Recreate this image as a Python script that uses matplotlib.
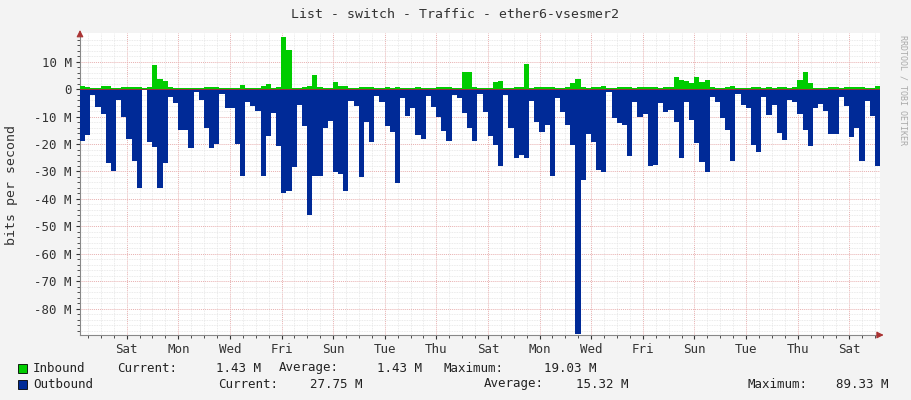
import matplotlib
matplotlib.use("Agg")
import matplotlib.pyplot as plt
import numpy as np

inbound = [1,.6,.4,.4,1.2,1.2,.4,.4,.6,.6,.8,.8,.4,.6,8.8,3.6,3,.6,.4,.4,.4,.4,.4,.4,.8,.8,.8,.4,.4,.4,.4,1.5,.4,.4,.4,1.2,1.8,.4,.6,19,
           14.3,.4,.4,.6,1.2,5.2,.8,.5,.5,2.4,1.2,1.2,.4,.4,.6,.6,.6,.4,.4,.8,.4,.6,.4,.4,.4,.6,.4,.4,.4,.6,.6,.6,.4,.4,6.3,6.3,.6,.4,.4,.4,
           2.7,3,.4,.4,.6,.6,9.3,.4,.6,.6,.8,.8,.4,.4,.6,2.1,3.6,.6,.4,.8,.8,1.2,.4,.4,.6,.6,.8,.4,.6,.8,.8,.8,.4,.6,.6,4.5,3.4,
           3,2.2,4.5,2.7,3.4,.6,.4,.4,.8,1.2,.4,.4,.4,.8,.8,.4,.6,.4,.6,.6,.4,.6,3.4,6.3,2.2,.4,.4,.4,.6,.6,.4,.6,.6,.6,.6,.4,.4,1.2]
outbound = [18.8,16.7,2.2,6.7,9,27,30,4,10,18,26,36,0.3,19.4,21,36,27,2.8,5,15,14.8,21.6,1,4,14.3,21.6,20,1.8,7,7,20,31.5,4.6,6,7.9,31.5,17,8.7,20.6,38,
            37,28.5,5.7,13.6,45.7,31.5,31.8,14.3,11.5,30.3,31,37,4.2,6,32,11.9,19.4,2.7,4.6,13.6,15.5,34.3,3.4,9.7,7,16.7,18,2.4,6.7,10.3,15.2,18.8,2,3.4,8.8,14,19,1.8,8.5,17.2,
            20.4,28,2,14.3,25.2,23.9,25.2,4.2,11.9,15.8,13,31.8,3.4,8.2,13,20.2,89.3,33,16.4,19.2,29.3,30.3,1.2,10.7,12.4,13.1,24.5,4.6,10.3,9.1,28.1,27.6,5.2,8.5,7.6,11.9,25.2,
            4.6,11.2,19.6,26.7,30.3,2.8,4.6,10.7,14.8,26,1.8,5.7,7,20.2,22.8,3,9.3,5.7,16,18.4,4,4.6,9.1,14.8,20.6,7,5.5,7.9,16.4,16.4,2.8,6,17.6,14,26.3,4.2,9.7,28.1]
day_labels = ["Sat","Mon","Wed","Fri","Sun","Tue","Thu","Sat","Mon","Wed","Fri","Sun","Tue","Thu","Sat"]
step_h = 4.8
first_label_h = 43.4

fig = plt.figure(figsize=(9.11, 4.0), dpi=100, facecolor="#F3F3F3")
ax = fig.add_axes([80/911, 65/400, 800/911, 302/400])
ax.set_facecolor("white")
n = len(inbound)
x = np.arange(n) * step_h
ax.bar(x, inbound, width=step_h, align="edge", color="#00CC00", linewidth=0, zorder=3)
ax.bar(x, [-v for v in outbound], width=step_h, align="edge", color="#002A97", linewidth=0, zorder=3)
ax.set_xlim(0, n * step_h)
ax.set_ylim(-89.5, 20.4)

ticks = [first_label_h + 48 * i for i in range(len(day_labels))]
ax.set_xticks(ticks)
ax.set_xticklabels(day_labels)
ax.set_xticks(np.arange(first_label_h % 12, n * step_h, 12), minor=True)
yt = list(range(-80, 20, 10))
ax.set_yticks(yt)
ax.set_yticklabels([("%d M" % v) if v != 0 else "0" for v in yt])
ax.set_yticks(np.arange(-88, 20, 2), minor=True)
ax.grid(which="minor", color="#E4E4E4", linestyle=(0, (1, 1)), linewidth=0.6, zorder=1)
ax.grid(which="major", color="#E8B0B0", linestyle=(0, (1, 1)), linewidth=0.7, zorder=2)
ax.tick_params(which="both", length=2, labelsize=9, colors="#333333", pad=3)
ax.tick_params(which="major", length=3)
for t in ax.get_xticklabels() + ax.get_yticklabels():
    t.set_family("DejaVu Sans Mono")
for s in ["top", "right"]:
    ax.spines[s].set_visible(False)
ax.spines["left"].set_color("#888888")
ax.spines["bottom"].set_color("#888888")
ax.axhline(0, color="#AA3333", linewidth=0.6, zorder=4)
ax.annotate("", xy=(n * step_h + 6, -89.5), xytext=(n * step_h - 2, -89.5),
            arrowprops=dict(arrowstyle="-|>", color="#AA3333", lw=0.8), annotation_clip=False)
ax.annotate("", xy=(0, 22.5), xytext=(0, 19.5),
            arrowprops=dict(arrowstyle="-|>", color="#AA3333", lw=0.8), annotation_clip=False)

mono = "DejaVu Sans Mono"
fig.text(455/911, 1 - 14/400, "List - switch - Traffic - ether6-vsesmer2", ha="center", va="center",
         fontsize=9.5, family=mono, color="#333333")
fig.text(12/911, 1 - 185/400, "bits per second", rotation=90, ha="center", va="center",
         fontsize=9.5, family=mono, color="#333333")
fig.text(903/911, 1 - 90/400, "RRDTOOL / TOBI OETIKER", rotation=270, ha="center", va="center",
         fontsize=6, family=mono, color="#AAAAAA")
fig.patches.append(plt.Rectangle((18/911, 1 - 373/400), 9/911, 9/400, transform=fig.transFigure,
                                 facecolor="#00CC00", edgecolor="black", linewidth=0.6))
fig.patches.append(plt.Rectangle((18/911, 1 - 389/400), 9/911, 9/400, transform=fig.transFigure,
                                 facecolor="#002A97", edgecolor="black", linewidth=0.6))

def t(xp, yp, s, ha="left"):
    fig.text(xp/911, 1 - yp/400, s, ha=ha, va="center", fontsize=9, family=mono, color="#222222")

t(33, 368, "Inbound"); t(117, 368, "Current:"); t(261, 368, "1.43 M", "right")
t(279, 368, "Average:"); t(422, 368, "1.43 M", "right")
t(443, 368, "Maximum:"); t(596, 368, "19.03 M", "right")
t(33, 384, "Outbound"); t(218, 384, "Current:"); t(363, 384, "27.75 M", "right")
t(484, 384, "Average:"); t(628, 384, "15.32 M", "right")
t(748, 384, "Maximum:"); t(888, 384, "89.33 M", "right")
fig.savefig("out.png", dpi=100, facecolor=fig.get_facecolor())
